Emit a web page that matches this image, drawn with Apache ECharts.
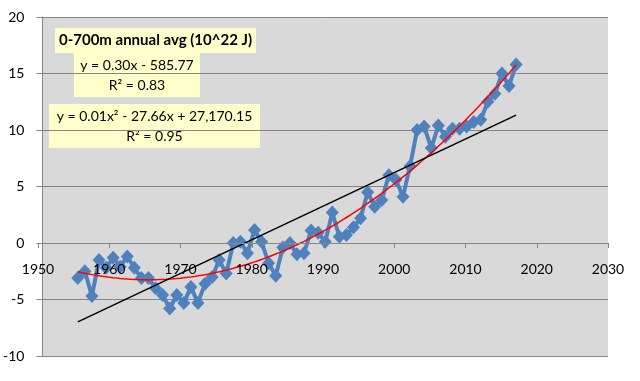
<!DOCTYPE html>
<html><head><meta charset="utf-8">
<script src="https://cdn.jsdelivr.net/npm/echarts@6/dist/echarts.min.js"></script>
<style>html,body{margin:0;padding:0;background:#fff}#c{width:640px;height:381px}</style>
</head><body><div id="c"></div>
<script>
var years = [1955,1956,1957,1958,1959,1960,1961,1962,1963,1964,1965,1966,1967,1968,1969,1970,1971,1972,1973,1974,1975,1976,1977,1978,1979,1980,1981,1982,1983,1984,1985,1986,1987,1988,1989,1990,1991,1992,1993,1994,1995,1996,1997,1998,1999,2000,2001,2002,2003,2004,2005,2006,2007,2008,2009,2010,2011,2012,2013,2014,2015,2016,2017];
var ohc = [-3.1,-2.5,-4.7,-1.5,-2.2,-1.3,-2.1,-1.2,-2.2,-3.1,-3.1,-4.0,-4.6,-5.8,-4.6,-5.3,-3.9,-5.3,-3.6,-3.0,-1.5,-2.7,0.0,0.1,-0.9,1.15,0.1,-1.8,-2.9,-0.4,0.0,-1.0,-0.9,1.1,0.9,0.1,2.7,0.55,0.7,1.4,2.2,4.5,3.2,3.8,6.0,5.6,4.1,6.8,10.0,10.3,8.4,10.4,9.4,10.1,10.1,10.3,10.7,10.9,12.5,13.2,15.0,13.9,15.8];
var xTicks = [1950,1960,1970,1980,1990,2000,2010,2020,2030];
var yTicks = [-10,-5,0,5,10,15,20];
var labelTitle = '0-700m annual avg (10^22 J)';
var labelLinear = ['y = 0.30x - 585.77', 'R² = 0.83'];
var labelPoly = ['y = 0.01x² - 27.66x + 27,170.15', 'R² = 0.95'];

// least squares fits computed from the data
function solve(A, b) {
  var n = b.length;
  for (var i = 0; i < n; i++) {
    var p = i;
    for (var r = i + 1; r < n; r++) if (Math.abs(A[r][i]) > Math.abs(A[p][i])) p = r;
    var t = A[i]; A[i] = A[p]; A[p] = t; var tb = b[i]; b[i] = b[p]; b[p] = tb;
    for (var r2 = i + 1; r2 < n; r2++) {
      var f = A[r2][i] / A[i][i];
      for (var c = i; c < n; c++) A[r2][c] -= f * A[i][c];
      b[r2] -= f * b[i];
    }
  }
  var x = new Array(n);
  for (var i2 = n - 1; i2 >= 0; i2--) {
    var s = b[i2];
    for (var c2 = i2 + 1; c2 < n; c2++) s -= A[i2][c2] * x[c2];
    x[i2] = s / A[i2][i2];
  }
  return x;
}
function polyfit(xs, ys, deg) {
  var m = deg + 1, A = [], b = [];
  for (var i = 0; i < m; i++) { A.push(new Array(m).fill(0)); b.push(0); }
  for (var k = 0; k < xs.length; k++) {
    var x = xs[k] - 1986;
    for (var i = 0; i < m; i++) {
      b[i] += Math.pow(x, i) * ys[k];
      for (var j = 0; j < m; j++) A[i][j] += Math.pow(x, i + j);
    }
  }
  return solve(A, b);
}
function evalp(c, yr) { var x = yr - 1986, s = 0; for (var i = 0; i < c.length; i++) s += c[i] * Math.pow(x, i); return s; }
var c1 = polyfit(years, ohc, 1), c2 = polyfit(years, ohc, 2);
var linData = [[years[0], evalp(c1, years[0])], [years[years.length - 1], evalp(c1, years[years.length - 1])]];
var polyData = [];
for (var yr = years[0]; yr <= years[years.length - 1] + 1e-9; yr += 0.5) polyData.push([yr, evalp(c2, yr)]);
var mainData = years.map(function (y, i) { return [y, ohc[i]]; });

var FONT = 'Lato';
var chart = echarts.init(document.getElementById('c'));
function box(x, y, w, h, lines, bold, fs) {
  return {
    type: 'group', left: x, top: y, children: [
      { type: 'rect', shape: { x: 0, y: 0, width: w, height: h }, style: { fill: '#FFFFCC' } },
      { type: 'text', x: w / 2, y: h / 2, style: { text: lines.join('\n'), fill: '#000', font: (bold ? 'bold ' : '') + fs + 'px ' + FONT, textAlign: 'center', textVerticalAlign: 'middle', lineHeight: fs + 6 } }
    ]
  };
}
// plot area: top 17, bottom 356 ; zero line at 17 + (20/30)*339 = 243
var plotTop = 17, plotBottom = 356;
var zeroY = plotTop + (yTicks[yTicks.length - 1] / (yTicks[yTicks.length - 1] - yTicks[0])) * (plotBottom - plotTop);
chart.setOption({
  backgroundColor: '#fff',
  animation: false,
  grid: [
    { left: 38, top: plotTop, right: 32, bottom: 381 - plotBottom, show: true, backgroundColor: '#D9D9D9', borderWidth: 0 },
    { left: 38, top: plotTop, right: 32, bottom: 381 - zeroY, show: false }
  ],
  xAxis: [{
    type: 'value', gridIndex: 0, min: xTicks[0], max: xTicks[xTicks.length - 1], interval: 10,
    axisLine: { show: false }, axisTick: { show: false }, axisLabel: { show: false }, splitLine: { show: false }
  }, {
    type: 'value', gridIndex: 1, min: xTicks[0], max: xTicks[xTicks.length - 1], interval: 10, z: 10,
    axisLine: { show: true, onZero: false, lineStyle: { color: '#868686', width: 1 } },
    axisTick: { show: true, length: 5, lineStyle: { color: '#868686' } },
    axisLabel: { color: '#000', fontFamily: FONT, fontSize: 14, margin: 19, formatter: function (v) { return String(v); } },
    splitLine: { show: false }
  }],
  yAxis: [{
    type: 'value', gridIndex: 0, min: yTicks[0], max: yTicks[yTicks.length - 1], interval: 5,
    axisLine: { show: true, onZero: false, lineStyle: { color: '#868686', width: 1 } },
    axisTick: { show: true, length: 6, lineStyle: { color: '#868686' } },
    axisLabel: { color: '#000', fontFamily: FONT, fontSize: 14, margin: 18 },
    splitLine: { show: true, lineStyle: { color: '#868686', width: 1 } }
  }, {
    type: 'value', gridIndex: 1, min: 0, max: 1, show: false
  }],
  series: [
    { type: 'line', xAxisIndex: 0, yAxisIndex: 0, data: mainData, symbol: 'diamond', symbolSize: [13, 14], lineStyle: { color: '#4F81BD', width: 4 }, itemStyle: { color: '#4F81BD' }, z: 2 },
    { type: 'line', xAxisIndex: 0, yAxisIndex: 0, data: polyData, symbol: 'none', lineStyle: { color: '#FF0000', width: 1.5 }, z: 4 },
    { type: 'line', xAxisIndex: 0, yAxisIndex: 0, data: linData, symbol: 'none', lineStyle: { color: '#000', width: 1.5 }, z: 4 }
  ],
  graphic: [
    box(55, 28, 201, 25, [labelTitle], true, 15),
    box(74, 53, 126, 44, labelLinear, false, 14),
    box(49, 104, 211, 44, labelPoly, false, 14)
  ]
});
</script></body></html>
